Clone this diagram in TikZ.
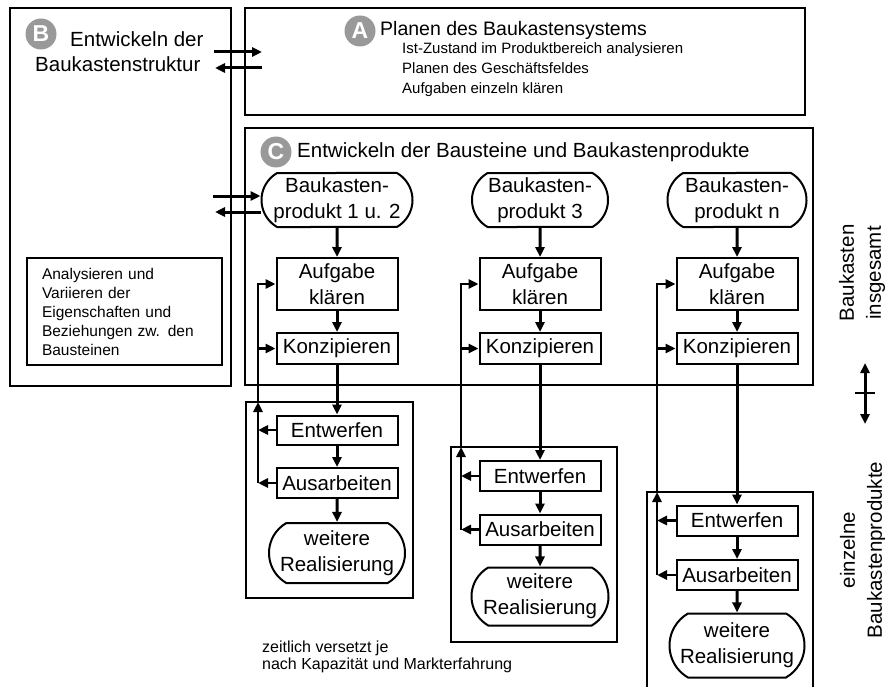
\documentclass[tikz,border=0pt]{standalone}
\usepackage{fontspec}
\setmainfont{Liberation Sans}
\usetikzlibrary{arrows.meta,shapes.misc}
\newcommand{\BoxFont}{\fontsize{20.5}{26}\selectfont}
\newcommand{\ItemFont}{\fontsize{15}{20}\selectfont}

\begin{document}
\begin{tikzpicture}[x=1pt,y=-1pt,
  >={Triangle[length=10pt,width=9pt]},
  frame/.style={draw,line width=1.8pt},
  box/.style={draw,line width=2pt,minimum width=121pt,inner sep=0pt,align=center,font=\BoxFont},
  term/.style={box,rounded rectangle,rounded rectangle arc length=120,minimum height=54pt},
  title/.style={inner sep=0pt,font=\fontsize{20.5}{26}\selectfont},
  item/.style={inner sep=0pt,anchor=base west,font=\ItemFont},
  side/.style={inner sep=0pt,align=center,rotate=90,font=\fontsize{20.5}{27}\selectfont},
  phase/.style={circle,fill=gray!80,text=white,inner sep=0pt,minimum size=31pt,font=\fontsize{23}{23}\selectfont\bfseries},
  flow/.style={->,line width=3pt},
  back/.style={->,line width=2.5pt}]
  \useasboundingbox (0,0) rectangle (885,687);

  % main frames
  \draw[frame] (10,8) rectangle (231,386);
  \draw[frame] (245,8) rectangle (805,115);
  \draw[frame] (245,128) rectangle (813,385);

  % B
  \node[phase] (pb) at (41,34) {B};
  \node[title,anchor=base west] (tb1) at (70,47) {Entwickeln der};
  \node[title,anchor=base west] (tb2) at (35,72) {Baukastenstruktur};
  \node[frame,minimum width=195pt,minimum height=107pt,text width=165pt,align=left,
        font=\fontsize{15.5}{19}\selectfont] (analyse) at (124.5,311.5)
    {Analysieren und\\Variieren der\\Eigenschaften und\\Beziehungen zw. den\\Bausteinen};

  % A
  \node[phase] (pa) at (360,31) {A};
  \node[title,anchor=base west,font=\fontsize{19.5}{24}\selectfont] (ta) at (380,36) {Planen des Baukastensystems};
  \node[item] (ist) at (402,54) {Ist-Zustand im Produktbereich analysieren};
  \node[item] (feld) at (402,74) {Planen des Gesch\"aftsfeldes};
  \node[item] (klar) at (402,94) {Aufgaben einzeln kl\"aren};

  % C
  \node[phase] (pc) at (276,152) {C};
  \node[title,anchor=base west] (tc) at (297,158) {Entwickeln der Bausteine und Baukastenprodukte};

  % column 1
  \node[term,minimum width=151pt] (p1) at (337,200) {Baukasten-\\produkt 1 u. 2};
  \node[box,minimum height=52pt] (a1) at (337,284) {Aufgabe\\kl\"aren};
  \node[box,minimum height=31pt] (k1) at (337,348.5) {Konzipieren};
  \node[box,minimum height=29pt] (e1) at (337,430) {Entwerfen};
  \node[box,minimum height=30pt] (w1) at (337,483) {Ausarbeiten};
  \node[term,minimum width=136pt,minimum height=60pt] (z1) at (337,553) {weitere\\Realisierung};

  % column 2
  \node[term,minimum width=136pt] (p3) at (540,200) {Baukasten-\\produkt 3};
  \node[box,minimum height=52pt] (a3) at (540,284) {Aufgabe\\kl\"aren};
  \node[box,minimum height=31pt] (k3) at (540,348.5) {Konzipieren};
  \node[box,minimum height=30pt] (e3) at (540,476) {Entwerfen};
  \node[box,minimum height=30pt] (w3) at (540,529.5) {Ausarbeiten};
  \node[term,minimum width=137pt,minimum height=58pt] (z3) at (540,596.5) {weitere\\Realisierung};

  % column n
  \node[term,minimum width=139pt] (pn) at (737,200) {Baukasten-\\produkt n};
  \node[box,minimum height=52pt] (an) at (737,284) {Aufgabe\\kl\"aren};
  \node[box,minimum height=31pt] (kn) at (737,348.5) {Konzipieren};
  \node[box,minimum height=30pt] (en) at (737,520.5) {Entwerfen};
  \node[box,minimum height=30pt] (wn) at (737,575) {Ausarbeiten};
  \node[term,minimum width=135pt,minimum height=64pt] (zn) at (737,645.5) {weitere\\Realisierung};

  % frames of the single products
  \draw[frame] (246,402) rectangle (413,598);
  \draw[frame] (451,447) rectangle (617,642);
  \draw[frame] (647,687) |- (813,492) -- (813,687);

  % main flow
  \path[flow]
    (p1) edge (a1) (a1) edge (k1) (k1) edge (e1) (e1) edge (w1) (w1) edge (z1)
    (p3) edge (a3) (a3) edge (k3) (k3) edge (e3) (e3) edge (w3) (w3) edge (z3)
    (pn) edge (an) (an) edge (kn) (kn) edge (en) (en) edge (wn) (wn) edge (zn);

  % iterations back
  \coordinate (fb1) at (258,402);
  \coordinate (fb3) at (461,447);
  \coordinate (fbn) at (657,492);
  \draw[back] (e1.west) -- (e1.west -| fb1);
  \draw[back] (w1.west) -- (w1.west -| fb1);
  \draw[back] (w1.west -| fb1) -- (fb1);
  \draw[back] (fb1) |- (a1.west);
  \draw[back] (k1.west -| fb1) -- (k1.west);
  \draw[back] (e3.west) -- (e3.west -| fb3);
  \draw[back] (w3.west) -- (w3.west -| fb3);
  \draw[back] (w3.west -| fb3) -- (fb3);
  \draw[back] (fb3) |- (a3.west);
  \draw[back] (k3.west -| fb3) -- (k3.west);
  \draw[back] (en.west) -- (en.west -| fbn);
  \draw[back] (wn.west) -- (wn.west -| fbn);
  \draw[back] (wn.west -| fbn) -- (fbn);
  \draw[back] (fbn) |- (an.west);
  \draw[back] (kn.west -| fbn) -- (kn.west);

  % exchange between B, A and C
  \coordinate (bA) at (214,52);
  \coordinate (aB) at (262,52);
  \coordinate (aB2) at (262,68);
  \coordinate (bA2) at (215,68);
  \coordinate (bC) at (213,196);
  \coordinate (cB) at (215,212);
  \draw[flow] (bA) -- (aB);
  \draw[flow] (aB2) -- (bA2);
  \draw[flow] (bC) -- (bC -| p1.west);
  \draw[flow] (cB -| p1.west) -- (cB);

  % right side
  \node[side] (gesamt) at (862,273) {Baukasten\\insgesamt};
  \node[side] (einzeln) at (863,550) {einzelne\\Baukastenprodukte};
  \coordinate (up) at (865,363);
  \coordinate (down) at (865,424);
  \coordinate (mid) at (865,393);
  \draw[flow,<->] (up) -- (down);
  \draw[line width=2pt] (mid) ++(-10,0) -- ++(20,0);

  % note
  \node[item,font=\fontsize{16}{17}\selectfont] (note1) at (262,652) {zeitlich versetzt je};
  \node[item,font=\fontsize{16}{17}\selectfont] (note2) at (262,669) {nach Kapazit\"at und Markterfahrung};
\end{tikzpicture}
\end{document}
